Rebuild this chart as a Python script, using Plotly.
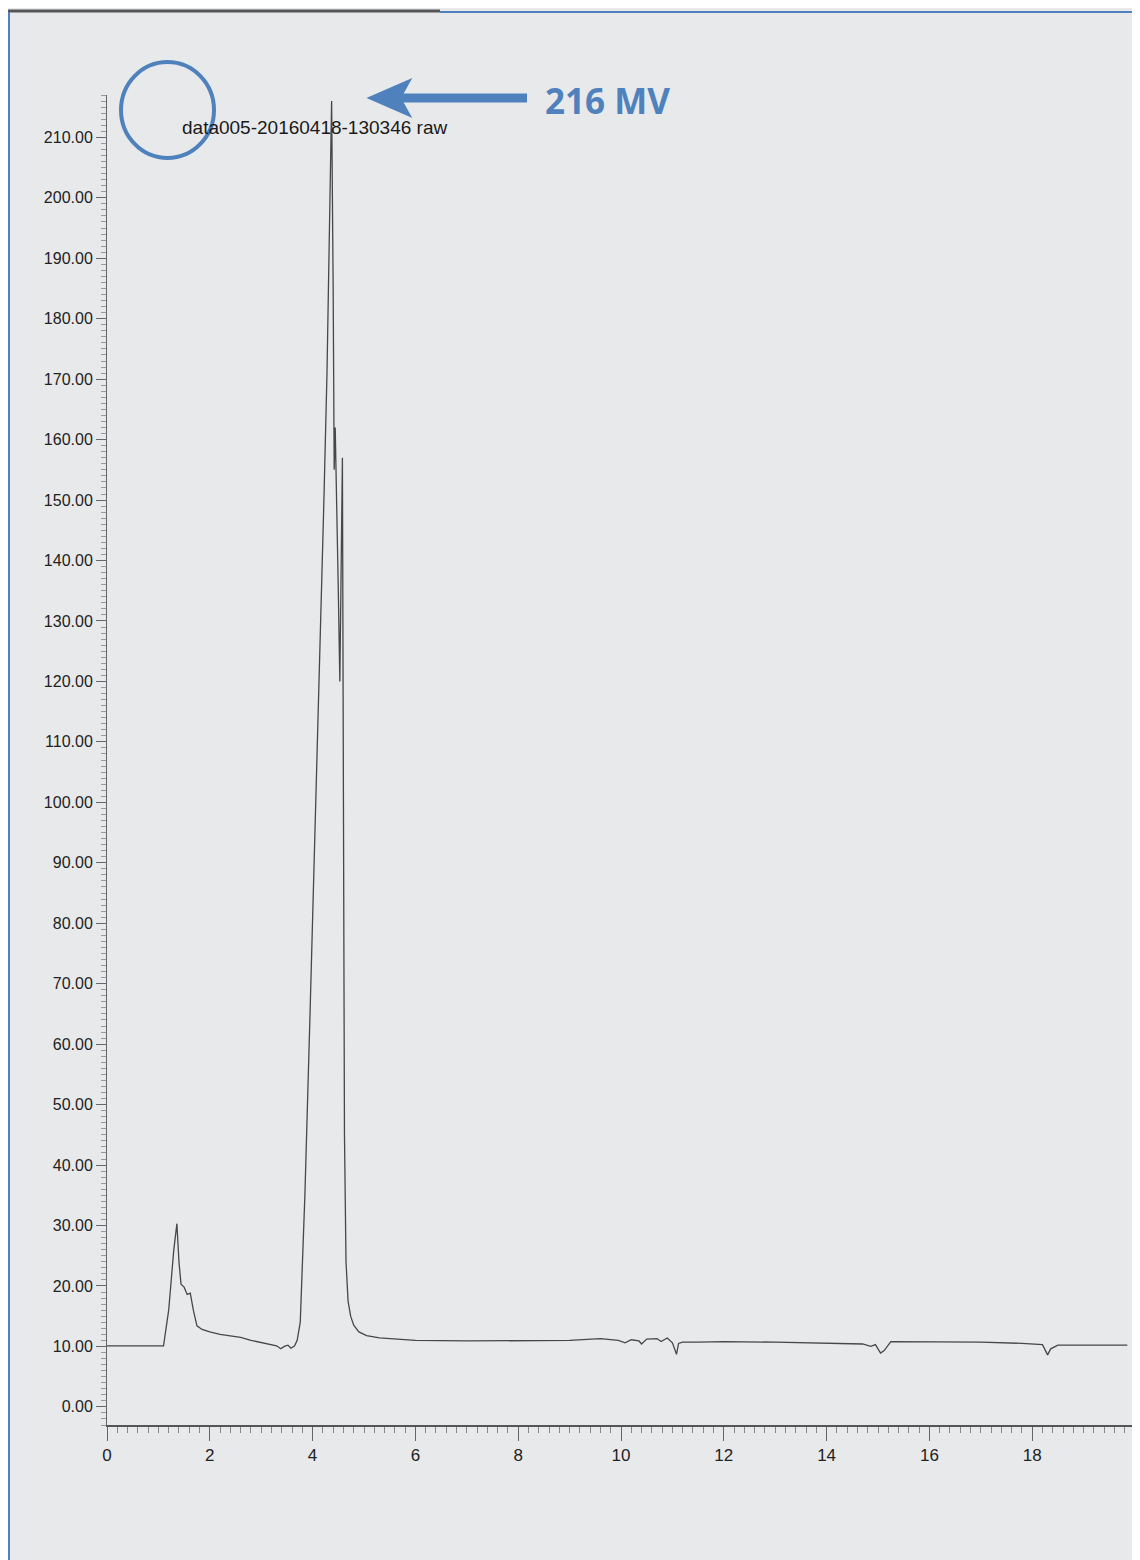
import plotly.graph_objects as go

# ---- data ----
time_min = [0.0, 1.10, 1.20, 1.30, 1.36, 1.40, 1.44, 1.50, 1.56, 1.62, 1.68, 1.75, 1.85, 2.0, 2.2,
            2.4, 2.6, 2.8, 3.0, 3.15, 3.3, 3.38, 3.45, 3.52, 3.58, 3.65, 3.70, 3.76, 3.85,
            3.95, 4.05, 4.14, 4.22, 4.28, 4.33, 4.37, 4.40, 4.42, 4.44, 4.47, 4.50, 4.53,
            4.56, 4.58, 4.60, 4.62, 4.65, 4.69, 4.74, 4.80, 4.90, 5.05, 5.3, 5.6, 6.0,
            7.0, 8.0, 9.0, 9.6, 9.95, 10.08, 10.2, 10.35, 10.4, 10.5, 10.7, 10.78, 10.9,
            11.0, 11.08, 11.12, 11.2, 11.5, 12.0, 13.0, 14.0, 14.7, 14.86, 14.95, 15.05,
            15.12, 15.25, 16.0, 17.0, 17.8, 18.2, 18.3, 18.36, 18.5, 19.0, 19.85]
signal_mv = [10.1, 10.1, 16.0, 26.0, 30.3, 24.0, 20.3, 19.8, 18.6, 18.8, 16.0, 13.4, 12.8, 12.4, 12.0,
             11.8, 11.5, 11.0, 10.6, 10.4, 10.1, 9.6, 10.0, 10.2, 9.7, 10.1, 11.0, 14.0, 35.0,
             65.0, 95.0, 122.0, 150.0, 171.0, 195.0, 216.0, 185.0, 155.0, 162.0, 150.0, 135.0, 120.0,
             140.0, 157.0, 100.0, 45.0, 24.0, 17.5, 15.0, 13.5, 12.4, 11.8, 11.4, 11.2, 11.0,
             10.9, 10.9, 11.0, 11.3, 11.0, 10.6, 11.1, 10.9, 10.4, 11.2, 11.3, 10.8, 11.4,
             10.6, 8.7, 10.5, 10.7, 10.7, 10.8, 10.7, 10.5, 10.4, 10.0, 10.3, 8.9,
             9.3, 10.8, 10.8, 10.7, 10.5, 10.3, 8.6, 9.6, 10.2, 10.2, 10.2]

x_tick_vals = [0, 2, 4, 6, 8, 10, 12, 14, 16, 18]
y_tick_vals = [0, 10, 20, 30, 40, 50, 60, 70, 80, 90, 100, 110, 120, 130, 140, 150,
               160, 170, 180, 190, 200, 210]
trace_name = "data005-20160418-130346 raw"
callout_text = "216 MV"

# ---- layout geometry (page pixels; the page body adds an 8px offset) ----
OFF = 8
W, H = 1140 - OFF, 1560 - OFF
ML, MT = 107 - OFF, 95 - OFF
MR, MB = 5, 135
PW, PH = W - ML - MR, H - MT - MB
BLUE = "#4F81BD"
BG = "#e8e9eb"


def px(x):
    return (x - OFF - ML) / PW


def py(y):
    return (H - MB - (y - OFF)) / PH


fig = go.Figure()
fig.add_trace(go.Scatter(
    x=time_min, y=signal_mv, mode="lines", name=trace_name,
    line=dict(color="#474747", width=1.3), hoverinfo="x+y", showlegend=False,
))

fig.update_xaxes(
    range=[0, 20], tickvals=x_tick_vals, showgrid=False, zeroline=False,
    showline=True, linecolor="#555", linewidth=1.5,
    ticks="outside", ticklen=14, tickcolor="#666", tickwidth=1,
    minor=dict(dtick=0.2, ticks="outside", ticklen=6, tickcolor="#888"),
    tickfont=dict(family="Liberation Sans, Arial", size=17, color="#222"),
)
fig.update_yaxes(
    range=[-3, 217], tickvals=y_tick_vals, tickformat=".2f", showgrid=False,
    zeroline=False, showline=True, linecolor="#666", linewidth=1,
    ticks="outside", ticklen=10, tickcolor="#666", tickwidth=1,
    minor=dict(dtick=1, ticks="outside", ticklen=5, tickcolor="#999"),
    tickfont=dict(family="Liberation Sans, Arial", size=16, color="#222"),
)

shapes = [
    # photo border: dark strip and blue frame
    dict(type="line", xref="paper", yref="paper", x0=px(8), x1=px(440), y0=py(11), y1=py(11),
         line=dict(color="#555", width=3)),
    dict(type="line", xref="paper", yref="paper", x0=px(440), x1=px(1140), y0=py(12), y1=py(12),
         line=dict(color=BLUE, width=2)),
    dict(type="line", xref="paper", yref="paper", x0=px(9), x1=px(9), y0=py(12), y1=py(1560),
         line=dict(color=BLUE, width=2)),
    # circle around 210 label
    dict(type="circle", xref="paper", yref="paper", x0=px(121), x1=px(214), y0=py(158), y1=py(62),
         line=dict(color=BLUE, width=4)),
    # arrow shaft
    dict(type="line", xref="paper", yref="paper", x0=px(398), x1=px(527), y0=py(98), y1=py(98),
         line=dict(color=BLUE, width=9)),
    # arrow head
    dict(type="path", xref="paper", yref="paper",
         path=f"M {px(369)},{py(98)} L {px(410)},{py(80)} L {px(400)},{py(98)} L {px(410)},{py(116)} Z",
         fillcolor=BLUE, line=dict(color=BLUE, width=2)),
]

annotations = [
    dict(xref="paper", yref="paper", x=px(180), y=py(128), xanchor="left", yanchor="middle",
         text=trace_name, showarrow=False,
         font=dict(family="Liberation Sans, Arial", size=19, color="#1a1a1a")),
    dict(xref="paper", yref="paper", x=px(543), y=py(100), xanchor="left", yanchor="middle",
         text=f"<b>{callout_text}</b>", showarrow=False,
         font=dict(family="Open Sans, Lato", size=35, color=BLUE)),
]

fig.update_layout(
    width=W, height=H, margin=dict(l=ML, r=MR, t=MT, b=MB),
    paper_bgcolor=BG, plot_bgcolor=BG, shapes=shapes, annotations=annotations,
    showlegend=False,
)

fig.write_html("out.html")
